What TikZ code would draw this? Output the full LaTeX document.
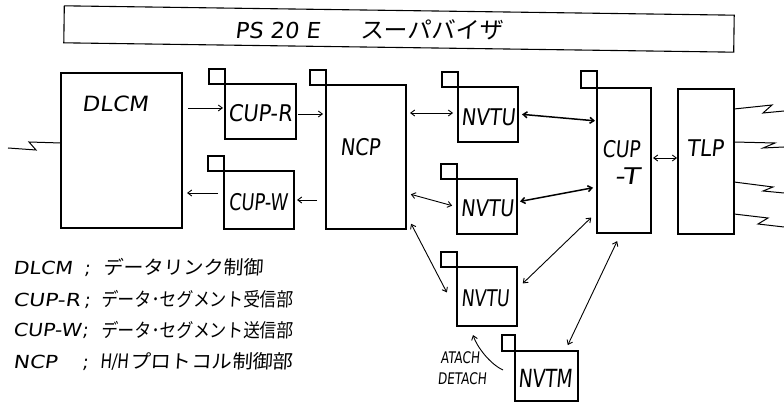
\documentclass[tikz,border=0pt]{standalone}
\usepackage{fontspec}
\usepackage{graphicx}
\usetikzlibrary{arrows.meta}
\newfontfamily\lat[FakeSlant=0.12]{DejaVu Sans}
\newfontfamily\jp[FakeSlant=0.06]{Noto Sans CJK JP}
\newcommand\fitto[2]{\resizebox{#1}{\height}{#2}}
\begin{document}
\begin{tikzpicture}[x=1pt,y=-1pt,
  blk/.style={draw, line width=1.1pt, inner sep=0pt, outer sep=0pt},
  tab/.style={draw, line width=1.1pt, minimum width=16pt, minimum height=15pt, inner sep=0pt, outer sep=0pt, anchor=south east},
  lab/.style={inner sep=0pt, font=\lat\fontsize{23}{23}\selectfont},
  leg/.style={inner sep=0pt, anchor=base west, font=\lat\fontsize{18}{18}\selectfont},
  legj/.style={inner sep=0pt, anchor=base west, font=\jp\fontsize{19}{19}\selectfont},
  small/.style={inner sep=0pt, font=\lat\fontsize{16}{16}\selectfont},
  tipb/.tip={Straight Barb[length=4pt,width=6pt]},
  arr/.style={line width=0.9pt, -tipb},
  darr/.style={line width=0.9pt, tipb-tipb},
  bold/.style={line width=1.5pt},
  bolt/.style={line width=1pt, line join=miter},
]
\useasboundingbox (0,0) rectangle (784,403);

% title
\node[blk, minimum width=670pt, minimum height=37pt, rotate=-0.8] (title) at (399,29) {};
\node[inner sep=0pt] (titletext) at (369,30)
  {\lat\fontsize{22}{22}\selectfont\fitto{85pt}{PS 20 E}\hspace{40pt}\jp\fontsize{23}{23}\selectfont\fitto{143pt}{スーパバイザ}};

% blocks
\node[blk, minimum width=121pt, minimum height=155pt] (dlcm) at (121.5,150.5) {};
\node[blk, minimum width=71pt, minimum height=55pt] (cupr) at (260.5,111.5) {};
\node[blk, minimum width=70pt, minimum height=58pt] (cupw) at (259,200) {};
\node[blk, minimum width=80pt, minimum height=144pt] (ncp) at (366,157) {};
\node[blk, minimum width=60pt, minimum height=55pt] (nvtua) at (488,114.5) {};
\node[blk, minimum width=60pt, minimum height=55pt] (nvtub) at (487,206.5) {};
\node[blk, minimum width=60pt, minimum height=59pt] (nvtuc) at (487,296.5) {};
\node[blk, minimum width=63pt, minimum height=50pt] (nvtm) at (546.5,376) {};
\node[blk, minimum width=54pt, minimum height=145pt] (cupt) at (624,160.5) {};
\node[blk, minimum width=56pt, minimum height=145pt] (tlp) at (706,161.5) {};

% small tabs
\node[tab] (cuprtab) at (cupr.north west) {};
\node[tab] (cupwtab) at (cupw.north west) {};
\node[tab] (ncptab) at (ncp.north west) {};
\node[tab] (nvtuatab) at (nvtua.north west) {};
\node[tab] (nvtubtab) at (nvtub.north west) {};
\node[tab] (nvtuctab) at (nvtuc.north west) {};
\node[tab, minimum width=13pt, minimum height=16pt] (nvtmtab) at (nvtm.north west) {};
\node[tab, minimum height=17pt] (cupttab) at (cupt.north west) {};

% labels
\node[lab, font=\lat\fontsize{21}{21}\selectfont] (ldlcm) at (115,104) {\fitto{66pt}{DLCM}};
\node[lab] (lcupr) at (260,113) {\fitto{64pt}{CUP-R}};
\node[lab] (lcupw) at (258,202) {\fitto{59pt}{CUP-W}};
\node[lab] (lncp) at (360,147) {\fitto{40pt}{NCP}};
\node[lab] (lnvtua) at (488,117) {\fitto{54pt}{NVTU}};
\node[lab] (lnvtub) at (487,208) {\fitto{53pt}{NVTU}};
\node[lab] (lnvtuc) at (485,298) {\fitto{48pt}{NVTU}};
\node[lab, font=\lat\fontsize{25}{25}\selectfont] (lnvtm) at (545,378) {\fitto{54pt}{NVTM}};
\node[lab] (lcupta) at (621,149) {\fitto{38pt}{CUP}};
\node[lab] (lcuptb) at (627,176) {\fitto{25pt}{-T}};
\node[lab] (ltlp) at (705,148) {\fitto{37pt}{TLP}};

% connectors
\draw[arr, shorten <=6pt, shorten >=2pt] (dlcm.east |- 0,108) -- (cupr.west |- 0,108);
\draw[arr, shorten <=2pt, shorten >=3pt] (cupr.east |- 0,114) -- (ncp.west |- 0,114);
\draw[arr, shorten <=9pt, shorten >=3pt] (ncp.west |- 0,200) -- (cupw.east |- 0,200);
\draw[arr, shorten <=6pt, shorten >=5pt] (cupw.west |- 0,193) -- (dlcm.east |- 0,193);
\draw[darr, shorten <=4pt, shorten >=5pt] (ncp.east |- 0,113) -- (nvtua.west |- 0,113);
\draw[darr, bold, shorten <=4pt, shorten >=2pt] (nvtua.east |- 0,114) -- (cupt.west |- 0,121);
\draw[darr, shorten <=5pt, shorten >=5pt] (ncp.east |- 0,193) -- (nvtub.west |- 0,207);
\draw[darr, bold, shorten <=3pt, shorten >=4pt] (nvtub.east |- 0,202) -- (cupt.west |- 0,187);
\draw[darr, shorten <=11pt, shorten >=22pt] (ncp.east |- 0,214) -- (nvtuc.west |- 0,312);
\draw[darr, shorten <=8pt, shorten >=8pt] (cupt.west |- 0,212) -- (nvtuc.east |- 0,289);
\draw[darr, shorten <=9pt, shorten >=6.5pt] (cupt.south -| 621,0) -- (nvtm.north -| 565,0);
\draw[darr, shorten <=2pt, shorten >=1pt] (cupt.east |- 0,158) -- (tlp.west |- 0,158);

% attach / detach
\coordinate (atfrom) at (503,370);
\coordinate (atto) at (473,335);
\draw[arr] (atfrom) .. controls (490,364) and (477,347) .. (atto);
\node[small] (latach) at (460,357.5) {\fitto{39pt}{ATACH}};
\node[small] (ldetach) at (462,378.5) {\fitto{49pt}{DETACH}};

% lines (lightning)
\draw[bolt] (8,148) -- (36,150) -- (29,142) -- (dlcm.west |- 0,143);
\draw[bolt] (tlp.east |- 0,109) -- (772,105) -- (763,113) -- (784,111);
\draw[bolt] (tlp.east |- 0,142) -- (775,143) -- (763,148) -- (784,147);
\draw[bolt] (tlp.east |- 0,182) -- (773,187) -- (763,191) -- (784,193);
\draw[bolt] (tlp.east |- 0,214) -- (768,218) -- (758,224) -- (784,227);

% legend
\node[leg] (k1) at (13,274) {\fitto{59pt}{DLCM}};
\node[leg] (k2) at (13,306) {\fitto{67pt}{CUP-R}};
\node[leg] (k3) at (13,336.5) {\fitto{68pt}{CUP-W}};
\node[leg] (k4) at (13,368) {\fitto{44pt}{NCP}};
\node[leg] (s1) at (84,274) {;};
\node[leg] (s2) at (84,306) {;};
\node[leg] (s3) at (82,336.5) {;};
\node[leg] (s4) at (82,368) {;};
\node[legj] (d1) at (103,274.5) {\fitto{160pt}{データリンク制御}};
\node[legj] (d2) at (101,306.5) {\fitto{192pt}{データ･セグメント受信部}};
\node[legj] (d3) at (101,337) {\fitto{192pt}{データ･セグメント送信部}};
\node[legj] (d4) at (100,368.5) {{\lat\fontsize{20}{20}\selectfont\fitto{28pt}{H/H}}\hspace{2pt}\fitto{163pt}{プロトコル制御部}};
\end{tikzpicture}
\end{document}
